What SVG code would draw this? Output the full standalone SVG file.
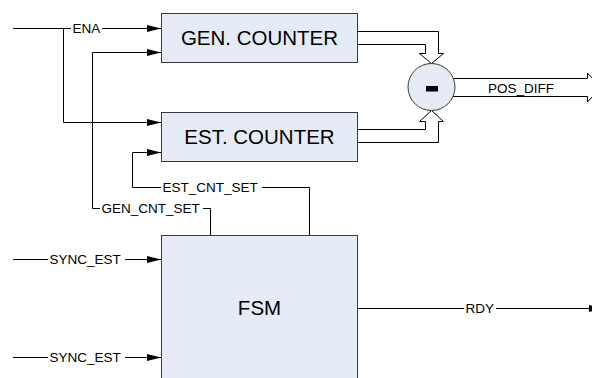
<svg xmlns="http://www.w3.org/2000/svg" width="592" height="378" viewBox="0 0 592 378">
<style>
.box{fill:#E5EBF6;stroke:#3a3a3a;stroke-width:1}
.big{font-family:"Liberation Sans",Arial,sans-serif;font-size:20.5px;fill:#000;text-anchor:middle}
.lbl{font-family:"Liberation Sans",Arial,sans-serif;font-size:13.5px;fill:#000}
.wire{fill:none;stroke:#000;stroke-width:1}
.hollow{fill:#fff;stroke:#000;stroke-width:1;stroke-linejoin:miter}
.bg{fill:#fff}
</style>
<defs>
<marker id="arr" markerUnits="userSpaceOnUse" markerWidth="14" markerHeight="8" refX="14" refY="4" orient="auto">
<path d="M0,0.5 L14,4 L0,7.5 z" fill="#000"/>
</marker>
</defs>
<rect width="592" height="378" fill="#fff"/>
<g id="connectors">
<path class="wire" d="M13,28.5 H161" marker-end="url(#arr)"/>
<path class="wire" d="M63.5,28.5 V122.5 H161" marker-end="url(#arr)"/>
<path class="wire" d="M210.5,235 V208.5 H92.5 V52.5 H161" marker-end="url(#arr)"/>
<path class="wire" d="M309.5,235 V187.5 H132.5 V152.5 H161" marker-end="url(#arr)"/>
<path class="wire" d="M13,259.5 H161" marker-end="url(#arr)"/>
<path class="wire" d="M13,357.5 H161" marker-end="url(#arr)"/>
<path class="wire" d="M358,308.5 H603" marker-end="url(#arr)"/>
<path class="hollow" d="M357,31.5 H438.5 V53.5 H443.5 L431.5,63.5 L419.5,53.5 H425.5 V44.5 H357"/>
<path class="hollow" d="M357,129.5 H425.5 V121.5 H419.5 L431.5,110.5 L443.5,121.5 H438.5 V142.5 H357"/>
<path class="hollow" d="M452,78.5 H587.5 V73 L601,87.5 L587.5,102 V96.5 H452"/>
<rect class="bg" x="71" y="22" width="31" height="13"/>
<text class="lbl" x="72.5" y="33">ENA</text>
<rect class="bg" x="100" y="202" width="103" height="13"/>
<text class="lbl" x="101.5" y="213">GEN_CNT_SET</text>
<rect class="bg" x="161" y="181" width="101" height="13"/>
<text class="lbl" x="162.5" y="192">EST_CNT_SET</text>
<rect class="bg" x="48" y="253" width="77" height="13"/>
<text class="lbl" x="49.5" y="264">SYNC_EST</text>
<rect class="bg" x="48" y="351" width="77" height="13"/>
<text class="lbl" x="49.5" y="362">SYNC_EST</text>
<rect class="bg" x="464" y="302" width="32" height="13"/>
<text class="lbl" x="465.5" y="313">RDY</text>
<text class="lbl" x="488" y="93">POS_DIFF</text>
</g>
<g id="gen_counter">
<rect class="box" x="161.5" y="13.5" width="196" height="49"/>
<text class="big" x="259.5" y="45">GEN. COUNTER</text>
</g>
<g id="est_counter">
<rect class="box" x="161.5" y="112.5" width="196" height="49"/>
<text class="big" x="259.5" y="144">EST. COUNTER</text>
</g>
<g id="subtractor">
<circle cx="431.5" cy="87" r="23.5" fill="#E5EBF6" stroke="#3a3a3a" stroke-width="1"/>
<rect x="426" y="86" width="12" height="5.5" fill="#000"/>
</g>
<g id="fsm">
<rect class="box" x="161.5" y="235.5" width="196" height="150"/>
<text class="big" x="259.5" y="315">FSM</text>
</g>
</svg>
